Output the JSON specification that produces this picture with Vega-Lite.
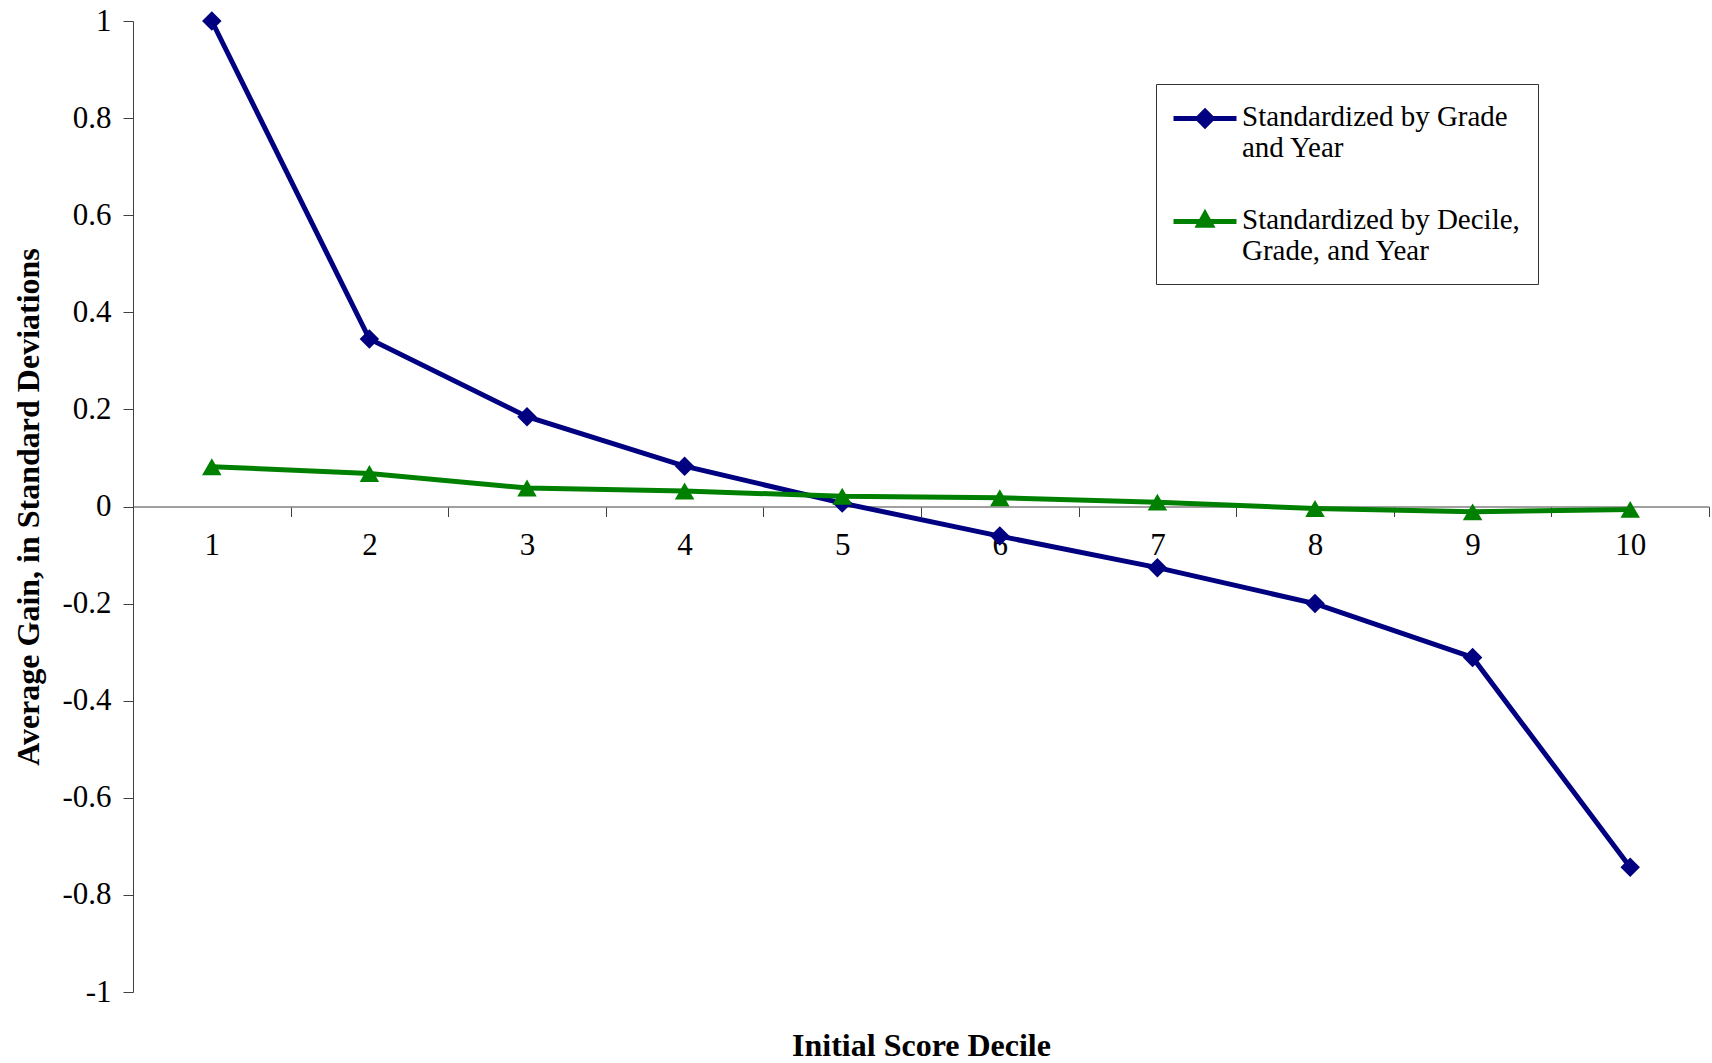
{
  "$schema": "https://vega.github.io/schema/vega-lite/v6.json",
  "autosize": {"type": "none"},
  "width": 1576,
  "height": 971,
  "padding": {"left": 133, "top": 21, "right": 3, "bottom": 71},
  "background": "white",
  "config": {
    "view": {"stroke": null},
    "font": "Liberation Serif",
    "axis": {"grid": false, "labelFont": "Liberation Serif", "titleFont": "Liberation Serif", "labelColor": "black", "titleColor": "black"}
  },
  "data": {
    "values": [
      {"decile": 1, "series": "Standardized by Grade and Year", "gain": 1.0},
      {"decile": 2, "series": "Standardized by Grade and Year", "gain": 0.345},
      {"decile": 3, "series": "Standardized by Grade and Year", "gain": 0.185},
      {"decile": 4, "series": "Standardized by Grade and Year", "gain": 0.083},
      {"decile": 5, "series": "Standardized by Grade and Year", "gain": 0.007},
      {"decile": 6, "series": "Standardized by Grade and Year", "gain": -0.061},
      {"decile": 7, "series": "Standardized by Grade and Year", "gain": -0.126},
      {"decile": 8, "series": "Standardized by Grade and Year", "gain": -0.2},
      {"decile": 9, "series": "Standardized by Grade and Year", "gain": -0.311},
      {"decile": 10, "series": "Standardized by Grade and Year", "gain": -0.743},
      {"decile": 1, "series": "Standardized by Decile, Grade, and Year", "gain": 0.082},
      {"decile": 2, "series": "Standardized by Decile, Grade, and Year", "gain": 0.068},
      {"decile": 3, "series": "Standardized by Decile, Grade, and Year", "gain": 0.038},
      {"decile": 4, "series": "Standardized by Decile, Grade, and Year", "gain": 0.032},
      {"decile": 5, "series": "Standardized by Decile, Grade, and Year", "gain": 0.021},
      {"decile": 6, "series": "Standardized by Decile, Grade, and Year", "gain": 0.018},
      {"decile": 7, "series": "Standardized by Decile, Grade, and Year", "gain": 0.009},
      {"decile": 8, "series": "Standardized by Decile, Grade, and Year", "gain": -0.004},
      {"decile": 9, "series": "Standardized by Decile, Grade, and Year", "gain": -0.011},
      {"decile": 10, "series": "Standardized by Decile, Grade, and Year", "gain": -0.006}
    ]
  },
  "encoding": {
    "x": {
      "field": "decile", "type": "ordinal",
      "scale": {"type": "band", "domain": [1,2,3,4,5,6,7,8,9,10], "paddingInner": 0, "paddingOuter": 0},
      "axis": {
        "title": "Initial Score Decile",
        "titleFontSize": 32, "titleFontWeight": "bold",
        "titleY": 549, "titleBaseline": "alphabetic",
        "offset": -485.5,
        "labelAngle": 0, "labelFontSize": 31, "labelPadding": 14,
        "tickBand": "extent", "tickSize": 10, "tickColor": "#404040",
        "domainColor": "#808080", "domainWidth": 1.5
      }
    },
    "y": {
      "field": "gain", "type": "quantitative",
      "scale": {"domain": [-1, 1], "nice": false, "zero": false},
      "axis": {
        "title": "Average Gain, in Standard Deviations",
        "titleFontSize": 32, "titleFontWeight": "bold", "titlePadding": 16,
        "values": [-1, -0.8, -0.6, -0.4, -0.2, 0, 0.2, 0.4, 0.6, 0.8, 1],
        "labelExpr": "'' + datum.value",
        "labelFontSize": 31, "labelPadding": 12,
        "tickSize": 10, "tickColor": "#404040", "domainColor": "#404040"
      }
    }
  },
  "resolve": {"scale": {"shape": "independent", "fill": "independent", "stroke": "independent"}},
  "layer": [
    {
      "mark": {"type": "line", "strokeWidth": 5},
      "encoding": {
        "color": {"field": "series", "type": "nominal", "legend": null,
          "scale": {"domain": ["Standardized by Grade and Year", "Standardized by Decile, Grade, and Year"], "range": ["#000080", "#008000"]}}
      }
    },
    {
      "mark": {"type": "point", "filled": true, "opacity": 1},
      "encoding": {
        "color": {"field": "series", "type": "nominal", "legend": null,
          "scale": {"domain": ["Standardized by Grade and Year", "Standardized by Decile, Grade, and Year"], "range": ["#000080", "#008000"]}},
        "shape": {"field": "series", "type": "nominal", "legend": null,
          "scale": {"domain": ["Standardized by Grade and Year", "Standardized by Decile, Grade, and Year"], "range": ["diamond", "triangle-up"]}},
        "size": {"value": 380}
      }
    },
    {
      "transform": [{"filter": "datum.decile > 100"}],
      "mark": {"type": "point", "filled": true, "opacity": 1},
      "encoding": {
        "fill": {"field": "series", "type": "nominal",
          "scale": {"domain": ["Standardized by Grade and Year", "Standardized by Decile, Grade, and Year"], "range": ["#000080", "#008000"]},
          "legend": {"title": null, "orient": "none", "legendX": 1023, "legendY": 63,
            "fillColor": "white", "strokeColor": "#333333", "padding": 18,
            "labelFont": "Liberation Serif", "labelFontSize": 29, "labelLimit": 0, "labelColor": "black", "labelOffset": 39,
            "symbolSize": 400, "symbolStrokeWidth": 5, "rowPadding": 40,
            "labelExpr": "datum.value === 'Standardized by Grade and Year' ? ['Standardized by Grade', 'and Year'] : ['Standardized by Decile,', 'Grade, and Year']"}},
        "stroke": {"field": "series", "type": "nominal",
          "scale": {"domain": ["Standardized by Grade and Year", "Standardized by Decile, Grade, and Year"], "range": ["#000080", "#008000"]},
          "legend": {"title": null, "orient": "none", "legendX": 1023, "legendY": 63,
            "fillColor": "white", "strokeColor": "#333333", "padding": 18,
            "labelFont": "Liberation Serif", "labelFontSize": 29, "labelLimit": 0, "labelColor": "black", "labelOffset": 39,
            "symbolSize": 400, "symbolStrokeWidth": 5, "rowPadding": 40,
            "labelExpr": "datum.value === 'Standardized by Grade and Year' ? ['Standardized by Grade', 'and Year'] : ['Standardized by Decile,', 'Grade, and Year']"}},
        "shape": {"field": "series", "type": "nominal",
          "scale": {"domain": ["Standardized by Grade and Year", "Standardized by Decile, Grade, and Year"], "range": ["M-1.5,0.2L4.8,0.2M1.65,-0.52L2.37,0.2L1.65,0.92L0.93,0.2Z", "M-1.5,0.2L4.8,0.2M1.65,-0.56L2.28,0.58L1.02,0.58Z"]},
          "legend": {"title": null, "orient": "none", "legendX": 1023, "legendY": 63,
            "fillColor": "white", "strokeColor": "#333333", "padding": 18,
            "labelFont": "Liberation Serif", "labelFontSize": 29, "labelLimit": 0, "labelColor": "black", "labelOffset": 39,
            "symbolSize": 400, "symbolStrokeWidth": 5, "rowPadding": 40,
            "labelExpr": "datum.value === 'Standardized by Grade and Year' ? ['Standardized by Grade', 'and Year'] : ['Standardized by Decile,', 'Grade, and Year']"}}
      }
    }
  ]
}
